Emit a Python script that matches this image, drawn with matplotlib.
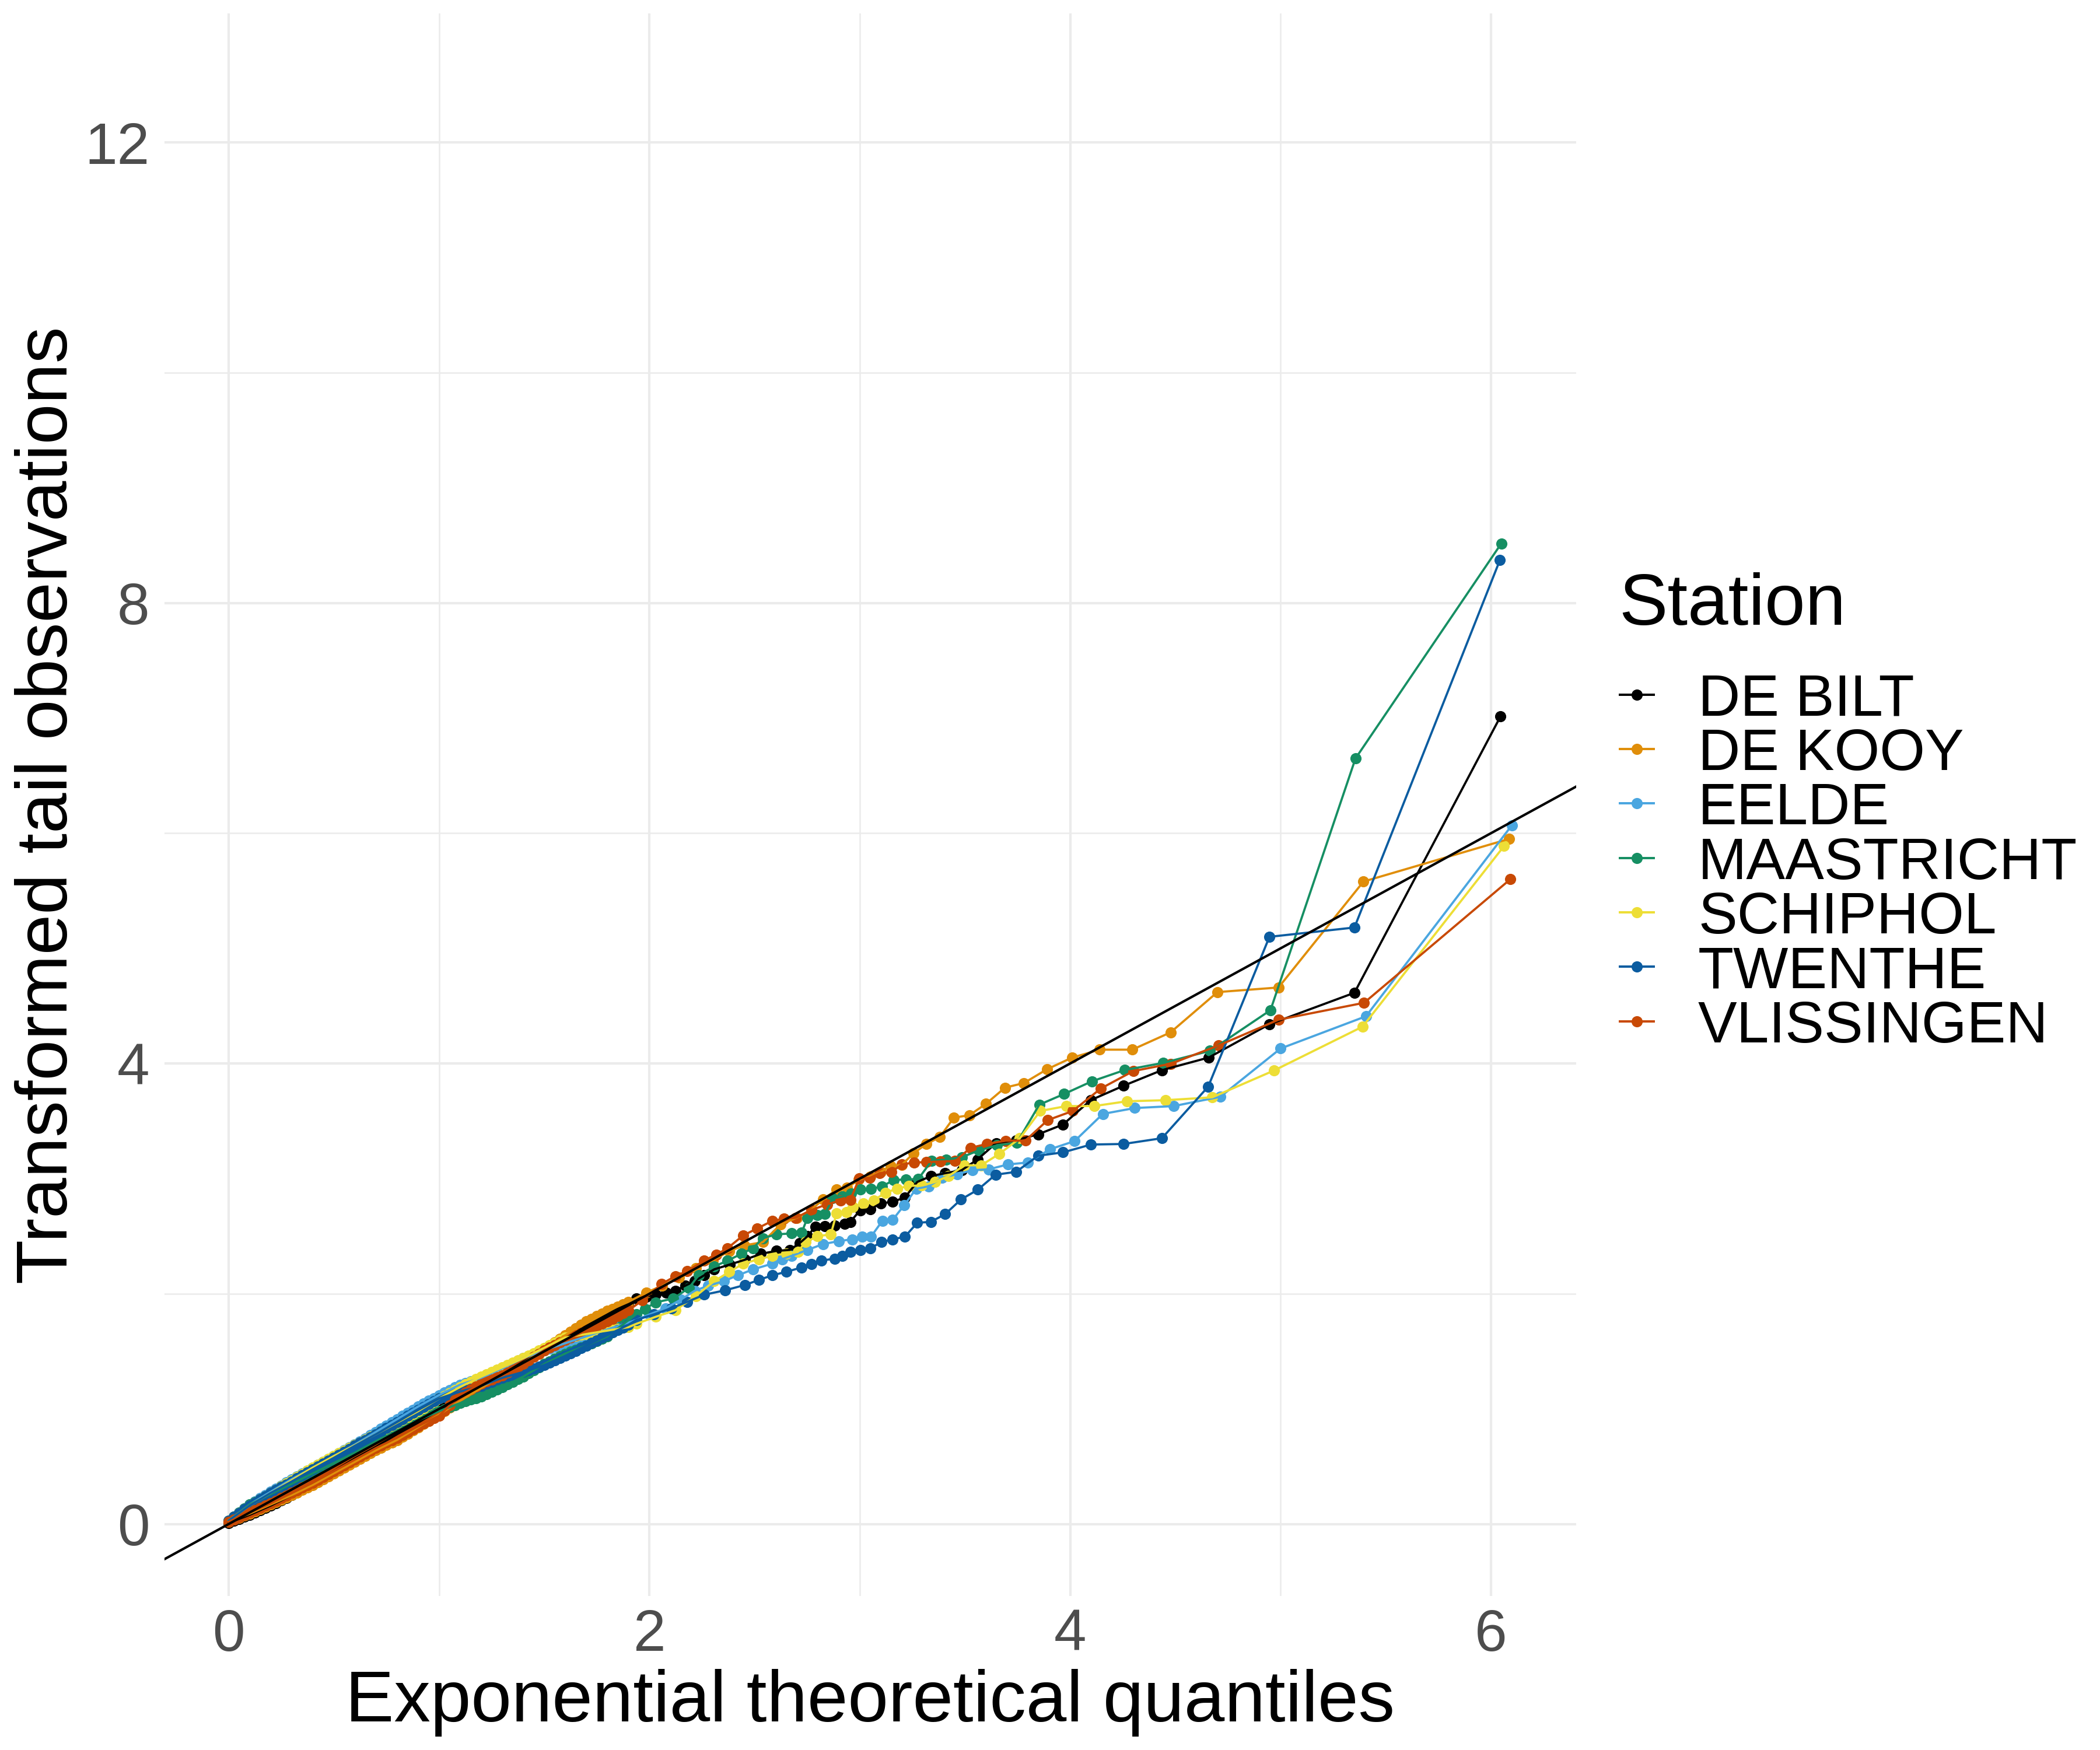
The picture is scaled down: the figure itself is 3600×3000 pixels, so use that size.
import matplotlib.pyplot as plt
from matplotlib.lines import Line2D

# ── Fonts ─────────────────────────────────────────────────────
plt.rcParams['font.family'] = ['Liberation Sans', 'DejaVu Sans']

# ── Data ──────────────────────────────────────────────────────
stations = ['DE BILT', 'DE KOOY', 'EELDE', 'MAASTRICHT', 'SCHIPHOL', 'TWENTHE', 'VLISSINGEN']
colors   = ['#000000', '#E08E0A', '#4AA6E0', '#168F63', '#EDDE36', '#0B5CA0', '#C84905']

# dense lower part, sampled on a shared set of theoretical quantiles
bulk_x = [0.000, 0.025, 0.050, 0.075, 0.100, 0.125, 0.150, 0.175, 0.200, 0.225,
          0.250, 0.275, 0.300, 0.325, 0.350, 0.375, 0.400, 0.425, 0.450, 0.475,
          0.500, 0.525, 0.550, 0.575, 0.600, 0.625, 0.650, 0.675, 0.700, 0.725,
          0.750, 0.775, 0.800, 0.825, 0.850, 0.875, 0.900, 0.925, 0.950, 0.975,
          1.000, 1.025, 1.050, 1.075, 1.100, 1.125, 1.150, 1.175, 1.200, 1.225,
          1.250, 1.275, 1.300, 1.325, 1.350, 1.375, 1.400, 1.425, 1.450, 1.475,
          1.500, 1.525, 1.550, 1.575, 1.600, 1.625, 1.650, 1.675, 1.700, 1.725,
          1.750, 1.775, 1.800, 1.825, 1.850, 1.875, 1.900]

debilt_bulk = [0.010, 0.028, 0.045, 0.062, 0.080, 0.100, 0.120, 0.140, 0.160, 0.183,
               0.205, 0.228, 0.250, 0.275, 0.300, 0.325, 0.350, 0.378, 0.405, 0.433,
               0.460, 0.488, 0.515, 0.543, 0.570, 0.595, 0.620, 0.645, 0.670, 0.698,
               0.725, 0.753, 0.780, 0.805, 0.830, 0.855, 0.880, 0.908, 0.935, 0.963,
               0.990, 1.018, 1.045, 1.073, 1.100, 1.125, 1.150, 1.175, 1.200, 1.225,
               1.250, 1.275, 1.300, 1.328, 1.355, 1.383, 1.410, 1.435, 1.460, 1.485,
               1.510, 1.535, 1.560, 1.585, 1.610, 1.638, 1.665, 1.693, 1.720, 1.745,
               1.770, 1.795, 1.820, 1.845, 1.870, 1.895, 1.920]
dekooy_bulk = [0.020, 0.038, 0.055, 0.073, 0.090, 0.110, 0.130, 0.150, 0.170, 0.190,
               0.210, 0.230, 0.250, 0.273, 0.295, 0.318, 0.340, 0.365, 0.390, 0.415,
               0.440, 0.465, 0.490, 0.515, 0.540, 0.565, 0.590, 0.615, 0.640, 0.663,
               0.685, 0.708, 0.730, 0.758, 0.785, 0.813, 0.840, 0.868, 0.895, 0.923,
               0.950, 0.980, 1.010, 1.040, 1.070, 1.098, 1.125, 1.153, 1.180, 1.208,
               1.235, 1.263, 1.290, 1.318, 1.345, 1.373, 1.400, 1.430, 1.460, 1.490,
               1.520, 1.550, 1.580, 1.610, 1.640, 1.670, 1.700, 1.730, 1.760, 1.783,
               1.805, 1.828, 1.850, 1.870, 1.890, 1.910, 1.930]
eelde_bulk = [0.030, 0.065, 0.100, 0.135, 0.170, 0.198, 0.225, 0.253, 0.280, 0.308,
              0.335, 0.363, 0.390, 0.415, 0.440, 0.465, 0.490, 0.515, 0.540, 0.565,
              0.590, 0.615, 0.640, 0.665, 0.690, 0.718, 0.745, 0.773, 0.800, 0.828,
              0.855, 0.883, 0.910, 0.938, 0.965, 0.993, 1.020, 1.045, 1.070, 1.095,
              1.120, 1.143, 1.165, 1.188, 1.210, 1.225, 1.240, 1.255, 1.270, 1.290,
              1.310, 1.330, 1.350, 1.373, 1.395, 1.418, 1.440, 1.458, 1.475, 1.493,
              1.510, 1.525, 1.540, 1.555, 1.570, 1.585, 1.600, 1.615, 1.630, 1.645,
              1.660, 1.675, 1.690, 1.705, 1.720, 1.735, 1.750]
maastricht_bulk = [0.030, 0.065, 0.100, 0.135, 0.170, 0.193, 0.215, 0.238, 0.260, 0.283,
                   0.305, 0.328, 0.350, 0.373, 0.395, 0.418, 0.440, 0.463, 0.485, 0.508,
                   0.530, 0.553, 0.575, 0.598, 0.620, 0.645, 0.670, 0.695, 0.720, 0.743,
                   0.765, 0.788, 0.810, 0.833, 0.855, 0.878, 0.900, 0.920, 0.940, 0.960,
                   0.980, 0.998, 1.015, 1.033, 1.050, 1.065, 1.080, 1.095, 1.110, 1.130,
                   1.150, 1.170, 1.190, 1.213, 1.235, 1.258, 1.280, 1.308, 1.335, 1.363,
                   1.390, 1.413, 1.435, 1.458, 1.480, 1.498, 1.515, 1.533, 1.550, 1.570,
                   1.590, 1.610, 1.630, 1.665, 1.700, 1.735, 1.770]
schiphol_bulk = [0.030, 0.063, 0.095, 0.128, 0.160, 0.188, 0.215, 0.243, 0.270, 0.298,
                 0.325, 0.353, 0.380, 0.408, 0.435, 0.463, 0.490, 0.515, 0.540, 0.565,
                 0.590, 0.614, 0.638, 0.661, 0.685, 0.709, 0.733, 0.756, 0.780, 0.805,
                 0.830, 0.855, 0.880, 0.905, 0.930, 0.955, 0.980, 1.008, 1.035, 1.063,
                 1.090, 1.115, 1.140, 1.165, 1.190, 1.213, 1.235, 1.258, 1.280, 1.300,
                 1.320, 1.340, 1.360, 1.380, 1.400, 1.420, 1.440, 1.463, 1.485, 1.508,
                 1.530, 1.553, 1.575, 1.598, 1.620, 1.628, 1.635, 1.643, 1.650, 1.658,
                 1.665, 1.673, 1.680, 1.688, 1.695, 1.703, 1.710]
twenthe_bulk = [0.030, 0.063, 0.095, 0.128, 0.160, 0.188, 0.215, 0.243, 0.270, 0.295,
                0.320, 0.345, 0.370, 0.396, 0.423, 0.449, 0.475, 0.500, 0.525, 0.550,
                0.575, 0.601, 0.628, 0.654, 0.680, 0.705, 0.730, 0.755, 0.780, 0.806,
                0.833, 0.859, 0.885, 0.911, 0.938, 0.964, 0.990, 1.015, 1.040, 1.065,
                1.090, 1.105, 1.120, 1.135, 1.150, 1.163, 1.175, 1.188, 1.200, 1.218,
                1.235, 1.253, 1.270, 1.283, 1.295, 1.308, 1.320, 1.335, 1.350, 1.365,
                1.380, 1.400, 1.420, 1.440, 1.460, 1.483, 1.505, 1.528, 1.550, 1.573,
                1.595, 1.618, 1.640, 1.663, 1.685, 1.708, 1.730]
vlissingen_bulk = [0.020, 0.040, 0.060, 0.080, 0.100, 0.120, 0.140, 0.160, 0.180, 0.203,
                   0.225, 0.248, 0.270, 0.293, 0.315, 0.338, 0.360, 0.385, 0.410, 0.435,
                   0.460, 0.485, 0.510, 0.535, 0.560, 0.585, 0.610, 0.635, 0.660, 0.683,
                   0.705, 0.728, 0.750, 0.775, 0.800, 0.825, 0.850, 0.873, 0.895, 0.918,
                   0.940, 0.985, 1.030, 1.075, 1.120, 1.145, 1.170, 1.195, 1.220, 1.238,
                   1.255, 1.273, 1.290, 1.315, 1.340, 1.365, 1.390, 1.420, 1.450, 1.480,
                   1.510, 1.533, 1.555, 1.578, 1.600, 1.620, 1.640, 1.660, 1.680, 1.700,
                   1.720, 1.740, 1.760, 1.784, 1.808, 1.831, 1.855]

# upper part: (theoretical quantile, transformed observation)
debilt_tail = [(1.938, 1.958), (1.985, 1.975), (2.03, 1.992), (2.08, 2.01), (2.123, 2.026),
               (2.17, 2.07), (2.215, 2.11), (2.26, 2.16), (2.308, 2.212), (2.382, 2.254),
               (2.455, 2.296), (2.53, 2.347), (2.603, 2.372), (2.668, 2.381), (2.714, 2.44),
               (2.751, 2.499), (2.788, 2.583), (2.834, 2.585), (2.881, 2.592), (2.927, 2.608),
               (2.955, 2.625), (3.002, 2.726), (3.051, 2.735), (3.10, 2.785), (3.156, 2.799),
               (3.214, 2.836), (3.273, 2.971), (3.338, 3.022), (3.406, 3.047), (3.484, 3.073),
               (3.559, 3.166), (3.648, 3.309), (3.743, 3.334), (3.848, 3.385), (3.966, 3.47),
               (4.097, 3.681), (4.254, 3.807), (4.436, 3.942), (4.659, 4.052), (4.946, 4.34),
               (5.351, 4.614), (6.045, 7.013)]
dekooy_tail = [(1.984, 2.009), (2.06, 2.07), (2.14, 2.14), (2.22, 2.22), (2.30, 2.29),
               (2.38, 2.37), (2.45, 2.42), (2.539, 2.448), (2.622, 2.60), (2.70, 2.66),
               (2.77, 2.73), (2.825, 2.82), (2.89, 2.904), (2.94, 2.92), (2.995, 2.99),
               (3.05, 3.02), (3.10, 3.06), (3.146, 3.11), (3.20, 3.12), (3.255, 3.22),
               (3.316, 3.30), (3.38, 3.36), (3.447, 3.53), (3.52, 3.55), (3.60, 3.65),
               (3.69, 3.79), (3.78, 3.83), (3.89, 3.95), (4.008, 4.05), (4.14, 4.12),
               (4.295, 4.12), (4.477, 4.27), (4.70, 4.62), (4.99, 4.66), (5.394, 5.58),
               (6.085, 5.95)]
eelde_tail = [(1.938, 1.773), (2.0, 1.82), (2.077, 1.874), (2.15, 1.95), (2.215, 2.026),
              (2.28, 2.07), (2.354, 2.11), (2.42, 2.16), (2.493, 2.212), (2.585, 2.262),
              (2.63, 2.30), (2.677, 2.33), (2.751, 2.381), (2.825, 2.431), (2.899, 2.457),
              (2.963, 2.473), (3.01, 2.495), (3.054, 2.498), (3.107, 2.633), (3.156, 2.642),
              (3.211, 2.769), (3.268, 2.912), (3.328, 2.934), (3.391, 3.008), (3.462, 3.039),
              (3.536, 3.073), (3.614, 3.081), (3.703, 3.123), (3.799, 3.14), (3.904, 3.255),
              (4.021, 3.326), (4.155, 3.562), (4.307, 3.613), (4.492, 3.63), (4.714, 3.711),
              (5.0, 4.13), (5.406, 4.41), (6.099, 6.068)]
maastricht_tail = [(1.938, 1.823), (1.98, 1.87), (2.03, 1.925), (2.114, 1.959), (2.188, 2.051),
                   (2.234, 2.161), (2.308, 2.237), (2.372, 2.288), (2.437, 2.347), (2.493, 2.397),
                   (2.539, 2.482), (2.603, 2.516), (2.677, 2.524), (2.724, 2.533), (2.751, 2.659),
                   (2.798, 2.685), (2.834, 2.693), (2.871, 2.828), (2.918, 2.845), (2.958, 2.87),
                   (3.004, 2.904), (3.054, 2.912), (3.106, 2.932), (3.161, 2.988), (3.218, 2.992),
                   (3.278, 2.997), (3.342, 3.157), (3.411, 3.165), (3.486, 3.187), (3.566, 3.245),
                   (3.651, 3.289), (3.747, 3.312), (3.853, 3.642), (3.971, 3.735), (4.103, 3.845),
                   (4.259, 3.943), (4.442, 4.005), (4.665, 4.11), (4.952, 4.463), (5.356, 6.649),
                   (6.049, 8.516)]
schiphol_tail = [(1.938, 1.739), (2.03, 1.80), (2.123, 1.857), (2.22, 1.98), (2.308, 2.11),
                 (2.38, 2.19), (2.446, 2.262), (2.52, 2.30), (2.585, 2.33), (2.65, 2.35),
                 (2.705, 2.364), (2.742, 2.448), (2.798, 2.499), (2.862, 2.516), (2.89, 2.701),
                 (2.936, 2.71), (2.967, 2.752), (3.016, 2.785), (3.066, 2.811), (3.122, 2.878),
                 (3.177, 2.912), (3.233, 2.937), (3.295, 2.94), (3.357, 2.971), (3.422, 3.022),
                 (3.497, 3.115), (3.577, 3.116), (3.664, 3.216), (3.761, 3.351), (3.858, 3.588),
                 (3.982, 3.63), (4.114, 3.63), (4.27, 3.672), (4.452, 3.681), (4.675, 3.706),
                 (4.97, 3.94), (5.39, 4.32), (6.062, 5.888)]
twenthe_tail = [(1.938, 1.773), (2.02, 1.82), (2.104, 1.874), (2.18, 1.93), (2.261, 1.992),
                (2.36, 2.03), (2.455, 2.077), (2.52, 2.12), (2.585, 2.161), (2.65, 2.19),
                (2.724, 2.229), (2.77, 2.26), (2.816, 2.288), (2.881, 2.305), (2.918, 2.33),
                (2.955, 2.363), (3.002, 2.38), (3.051, 2.397), (3.103, 2.448), (3.156, 2.473),
                (3.214, 2.495), (3.273, 2.616), (3.338, 2.625), (3.406, 2.692), (3.481, 2.819),
                (3.561, 2.904), (3.645, 3.034), (3.743, 3.059), (3.848, 3.199), (3.966, 3.228),
                (4.099, 3.296), (4.254, 3.301), (4.436, 3.351), (4.656, 3.799), (4.947, 5.10),
                (5.351, 5.181), (6.043, 8.374)]
vlissingen_tail = [(1.966, 1.942), (2.058, 2.085), (2.123, 2.153), (2.178, 2.195), (2.261, 2.288),
                   (2.317, 2.338), (2.372, 2.397), (2.446, 2.507), (2.511, 2.566), (2.585, 2.634),
                   (2.64, 2.651), (2.696, 2.66), (2.77, 2.727), (2.844, 2.777), (2.908, 2.81),
                   (2.955, 2.815), (2.998, 3.005), (3.047, 3.006), (3.094, 3.047), (3.149, 3.056),
                   (3.20, 3.123), (3.258, 3.14), (3.317, 3.143), (3.382, 3.149), (3.453, 3.152),
                   (3.526, 3.267), (3.604, 3.301), (3.693, 3.329), (3.787, 3.33), (3.893, 3.508),
                   (4.013, 3.588), (4.145, 3.782), (4.30, 3.934), (4.479, 3.998), (4.706, 4.157),
                   (4.99, 4.38), (5.397, 4.527), (6.092, 5.60)]

bulks = [debilt_bulk, dekooy_bulk, eelde_bulk, maastricht_bulk,
         schiphol_bulk, twenthe_bulk, vlissingen_bulk]
tails = [debilt_tail, dekooy_tail, eelde_tail, maastricht_tail,
         schiphol_tail, twenthe_tail, vlissingen_tail]

# ── Figure ────────────────────────────────────────────────────
W, H = 3600, 3000
fig = plt.figure(figsize=(12, 10), dpi=300)
ax = fig.add_axes([282 / W, 1 - 2736 / H, (2702 - 282) / W, (2736 - 23) / H])

grid = '#EBEBEB'
for v in [1, 3, 5]:
    ax.axvline(v, color=grid, lw=0.6, zorder=0)
for v in [2, 6, 10]:
    ax.axhline(v, color=grid, lw=0.6, zorder=0)
for v in [0, 2, 4, 6]:
    ax.axvline(v, color=grid, lw=1.0, zorder=0)
for v in [0, 4, 8, 12]:
    ax.axhline(v, color=grid, lw=1.0, zorder=0)

series = []
for name, col, yb, tail in zip(stations, colors, bulks, tails):
    xs = bulk_x + [p[0] for p in tail]
    ys = yb + [p[1] for p in tail]
    series.append((xs, ys, col))

# points first, then the connecting lines, then the reference line
for xs, ys, col in series:
    ax.plot(xs, ys, 'o', ms=4.6, mew=0, color=col, zorder=2)
for xs, ys, col in series:
    ax.plot(xs, ys, '-', lw=0.9, color=col, zorder=3)
ax.axline((0, 0), slope=1, color='black', lw=1.0, zorder=4)

ax.set_xlim(-0.305, 6.405)
ax.set_ylim(-0.625, 13.12)
ax.set_xticks([0, 2, 4, 6])
ax.set_yticks([0, 4, 8, 12])
ax.tick_params(length=0, labelsize=24, labelcolor='#4D4D4D')
ax.tick_params(axis='x', pad=5)
ax.tick_params(axis='y', pad=6.2)
for s in ax.spines.values():
    s.set_visible(False)

# axis titles
fig.text(1492 / W, 1 - 2951 / H, 'Exponential theoretical quantiles',
         fontsize=30, ha='center', va='baseline')
fig.text(115 / W, 1 - 1380 / H, 'Transformed tail observations',
         fontsize=30, ha='center', va='baseline', rotation=90, rotation_mode='anchor')

# ── Legend ────────────────────────────────────────────────────
fig.text(2775 / W, 1 - 1071 / H, 'Station', fontsize=30, ha='left', va='baseline')
for i, (name, col) in enumerate(zip(stations, colors)):
    yk = 1190.7 + i * 93.3
    fig.add_artist(Line2D([2777 / W, 2835 / W], [1 - yk / H, 1 - yk / H],
                          transform=fig.transFigure, color=col, lw=0.95))
    fig.add_artist(Line2D([2806 / W], [1 - yk / H], transform=fig.transFigure,
                          marker='o', ms=4.6, mew=0, color=col, linestyle='none'))
    fig.text(2911 / W, 1 - (yk + 36) / H, name, fontsize=24, ha='left', va='baseline')

fig.savefig('out.png', dpi=300, facecolor='white')
